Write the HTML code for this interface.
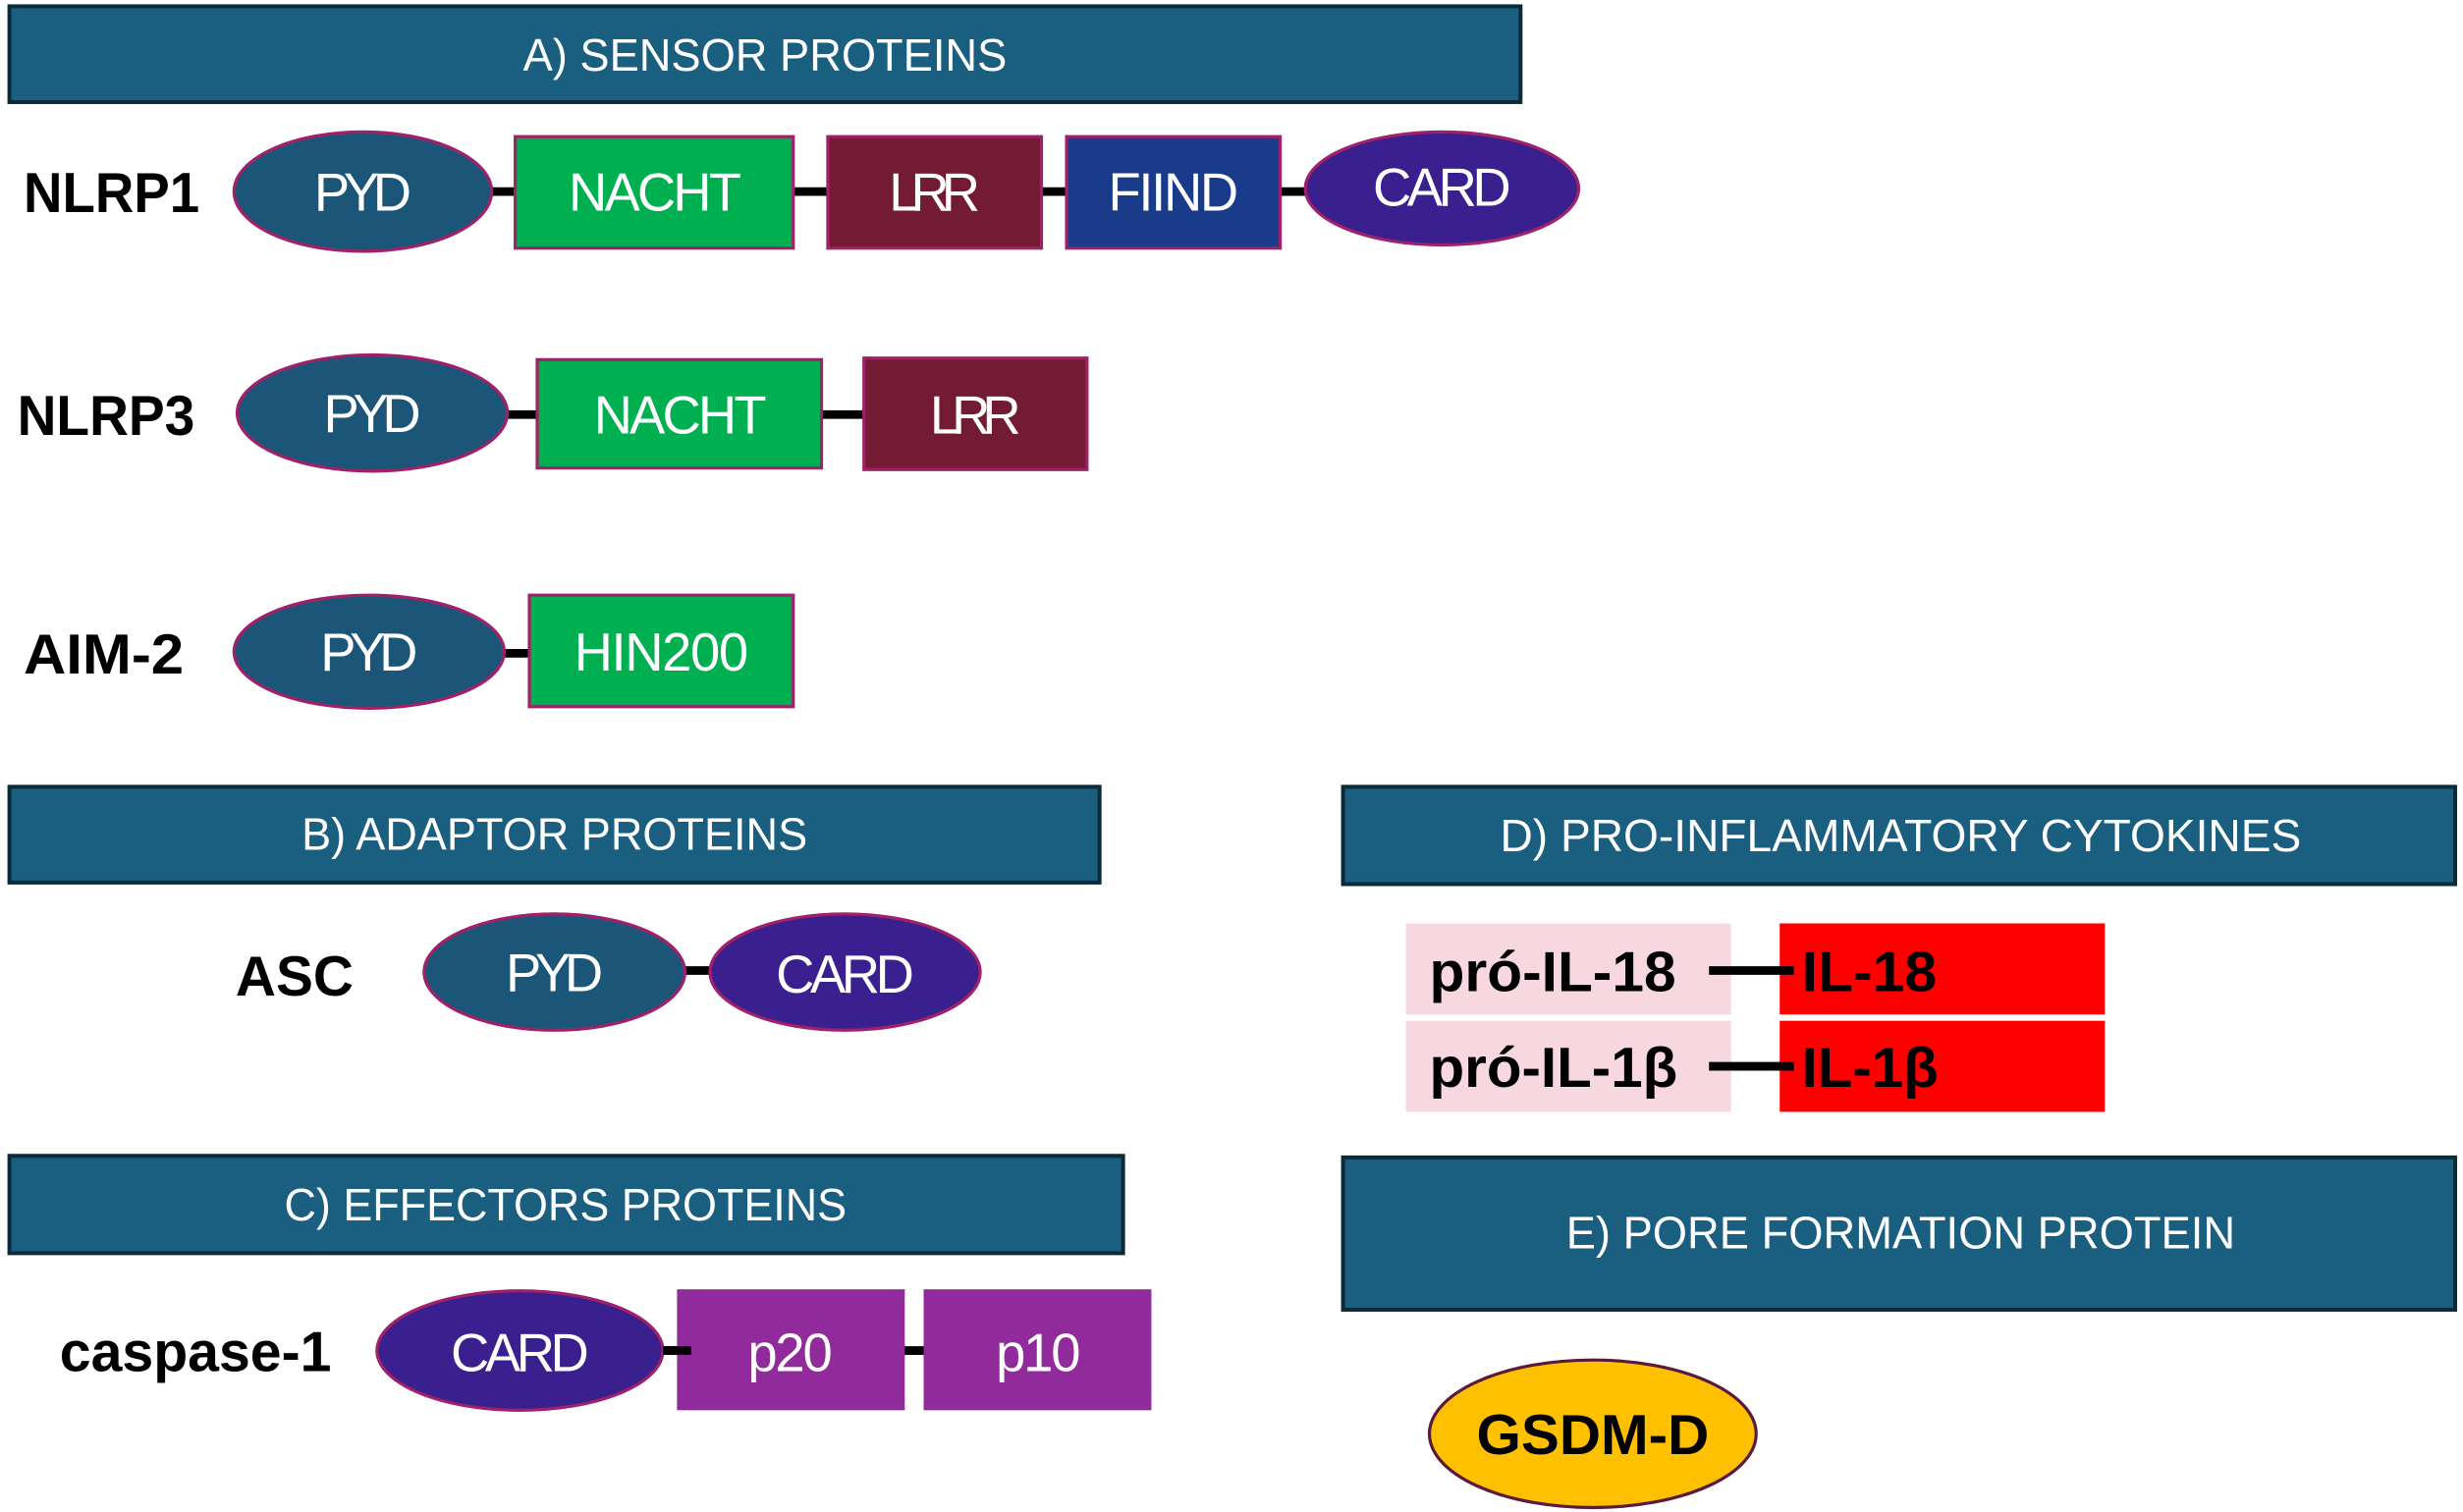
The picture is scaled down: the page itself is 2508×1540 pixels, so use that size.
<!DOCTYPE html>
<html><head><meta charset="utf-8"><style>
html,body{margin:0;padding:0;background:#fff;}
svg{display:block;}
text{font-family:"Liberation Sans",sans-serif;}
.h{fill:#fff;font-size:29px;text-anchor:middle;}
.d{fill:#fff;font-size:34px;text-anchor:middle;}
.l{fill:#000;font-size:36px;font-weight:bold;}
.c{stroke:#000;stroke-width:5.5;}
</style></head><body>
<svg width="2508" height="1540" viewBox="0 0 1568 962.8" xmlns="http://www.w3.org/2000/svg">
<g fill="#1A5F80" stroke="#0B2A3A" stroke-width="2.5">
<rect x="6" y="4" width="962" height="61"/>
<rect x="6" y="501" width="694" height="61"/>
<rect x="6" y="736" width="709" height="62"/>
<rect x="855" y="501" width="708" height="62"/>
<rect x="855" y="737" width="708" height="97"/>
</g>
<text class="h" x="487" y="45" textLength="308" lengthAdjust="spacingAndGlyphs">A) SENSOR PROTEINS</text>
<text class="h" x="353" y="541" textLength="322" lengthAdjust="spacingAndGlyphs">B) ADAPTOR PROTEINS</text>
<text class="h" x="360" y="777" textLength="358" lengthAdjust="spacingAndGlyphs">C) EFFECTORS PROTEINS</text>
<text class="h" x="1210" y="542" textLength="510" lengthAdjust="spacingAndGlyphs">D) PRO-INFLAMMATORY CYTOKINES</text>
<text class="h" x="1210" y="795" textLength="426" lengthAdjust="spacingAndGlyphs">E) PORE FORMATION PROTEIN</text>

<g class="c">
<line x1="305" y1="122" x2="333" y2="122"/><line x1="502" y1="122" x2="530" y2="122"/>
<line x1="660" y1="122" x2="683" y2="122"/><line x1="810" y1="122" x2="838" y2="122"/>
<line x1="315" y1="264" x2="345" y2="264"/><line x1="520" y1="264" x2="553" y2="264"/>
<line x1="312" y1="416" x2="342" y2="416"/>
<line x1="432" y1="618" x2="458" y2="618"/>
<line x1="418" y1="860" x2="436" y2="860"/><line x1="570" y1="860" x2="594" y2="860"/>
</g>

<g stroke="#A0206A" stroke-width="2">
<ellipse cx="231" cy="122" rx="82" ry="38" fill="#1B5679"/>
<rect x="328" y="87" width="177" height="71" fill="#00B050"/>
<rect x="527" y="87" width="136" height="71" fill="#741B34"/>
<rect x="679" y="87" width="136" height="71" fill="#1A3A8A"/>
<ellipse cx="918" cy="120" rx="87" ry="36" fill="#3A1F8E"/>
<ellipse cx="237" cy="263" rx="86" ry="37" fill="#1B5679"/>
<rect x="342" y="229" width="181" height="69" fill="#00B050"/>
<rect x="550" y="228" width="142" height="71" fill="#741B34"/>
<ellipse cx="235" cy="415" rx="86" ry="36" fill="#1B5679"/>
<rect x="337" y="379" width="168" height="71" fill="#00B050"/>
<ellipse cx="353" cy="619" rx="83" ry="37" fill="#1B5679"/>
<ellipse cx="538" cy="619" rx="86" ry="37" fill="#3A1F8E"/>
<ellipse cx="331" cy="860" rx="91" ry="38" fill="#3A1F8E"/>
</g>
<rect x="431" y="821" width="145" height="77" fill="#912A9A"/>
<rect x="588" y="821" width="145" height="77" fill="#912A9A"/>
<g class="c"><line x1="422" y1="860" x2="440" y2="860"/></g>

<g lengthAdjust="spacingAndGlyphs">
<text class="d" x="231" y="134" textLength="62">PYD</text>
<text class="d" x="417" y="134" textLength="110">NACHT</text>
<text class="d" x="595" y="134" textLength="58">LRR</text>
<text class="d" x="747" y="134" textLength="83">FIIND</text>
<text class="d" x="918" y="131" textLength="88">CARD</text>
<text class="d" x="237" y="275" textLength="62">PYD</text>
<text class="d" x="433" y="276" textLength="110">NACHT</text>
<text class="d" x="621" y="276" textLength="58">LRR</text>
<text class="d" x="235" y="427" textLength="62">PYD</text>
<text class="d" x="421" y="427" textLength="111">HIN200</text>
<text class="d" x="353" y="631" textLength="62">PYD</text>
<text class="d" x="538" y="632" textLength="88">CARD</text>
<text class="d" x="331" y="873" textLength="88">CARD</text>
<text class="d" x="503" y="873" textLength="54">p20</text>
<text class="d" x="661" y="873" textLength="54">p10</text>
</g>

<text class="l" x="15" y="135" textLength="112" lengthAdjust="spacingAndGlyphs">NLRP1</text>
<text class="l" x="11" y="277" textLength="113" lengthAdjust="spacingAndGlyphs">NLRP3</text>
<text class="l" x="15" y="429" textLength="102" lengthAdjust="spacingAndGlyphs">AIM-2</text>
<text class="l" x="150" y="634" textLength="75" lengthAdjust="spacingAndGlyphs">ASC</text>
<text class="l" x="38" y="873" textLength="173" lengthAdjust="spacingAndGlyphs">caspase-1</text>

<rect x="895" y="588" width="207" height="58" fill="#F8D8E0"/>
<rect x="895" y="650" width="207" height="58" fill="#F8D8E0"/>
<rect x="1133" y="588" width="207" height="58" fill="#FF0000"/>
<rect x="1133" y="650" width="207" height="58" fill="#FF0000"/>
<g class="c"><line x1="1088" y1="618" x2="1142" y2="618"/><line x1="1088" y1="679" x2="1142" y2="679"/></g>
<text class="l" x="910" y="631" textLength="157" lengthAdjust="spacingAndGlyphs">pró-IL-18</text>
<text class="l" x="910" y="692" textLength="158" lengthAdjust="spacingAndGlyphs">pró-IL-1β</text>
<text class="l" x="1147" y="631" textLength="86" lengthAdjust="spacingAndGlyphs">IL-18</text>
<text class="l" x="1147" y="692" textLength="87" lengthAdjust="spacingAndGlyphs">IL-1β</text>

<ellipse cx="1014" cy="913" rx="104" ry="47" fill="#FFC000" stroke="#5A1A3A" stroke-width="2"/>
<text class="l" x="940" y="926" textLength="148" lengthAdjust="spacingAndGlyphs">GSDM-D</text>
</svg>
</body></html>
